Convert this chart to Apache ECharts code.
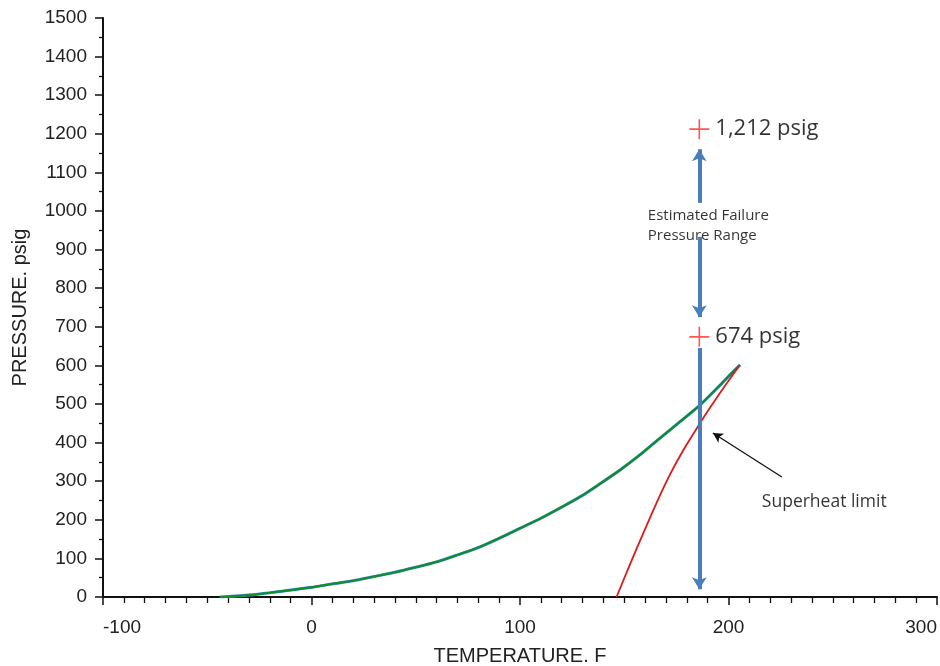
<!DOCTYPE html>
<html>
<head>
<meta charset="utf-8">
<script src="https://cdn.jsdelivr.net/npm/echarts@6/dist/echarts.min.js"></script>
<style>
  html, body { margin: 0; padding: 0; background: #ffffff; }
  #chart { width: 940px; height: 666px; }
</style>
</head>
<body>
<div id="chart"></div>
<script>
// Vapor pressure curve (green)
const vaporTemp = [-44, -40, -30, -20, -10, 0, 10, 20, 30, 40, 50, 60, 70, 80, 90, 100, 110, 119, 129, 138, 148, 157.5, 167, 176.7, 186.3, 196, 202.3, 205.5];
const vaporPressure = [0, 1, 5, 11, 18, 25, 34, 42, 53, 64, 77, 91, 109, 128, 152, 178, 204, 230, 260, 292, 329, 368, 411, 454, 497, 549, 584, 601];

// Superheat limit curve (red)
const superheatTemp = [146.3, 152.7, 159.1, 165.5, 171.9, 178.3, 185.5, 191.1, 197.5, 205.5];
const superheatPressure = [0, 84, 165, 244, 317, 380, 443, 490, 541, 601];

// Failure pressure markers
const failureTemp = [186, 186];
const failurePressure = [1212, 674];
const failureLabels = ['1,212 psig', '674 psig'];

// Axis ticks
const xTicks = [-100, 0, 100, 200, 300];
const yTicks = [0, 100, 200, 300, 400, 500, 600, 700, 800, 900, 1000, 1100, 1200, 1300, 1400, 1500];

const chart = echarts.init(document.getElementById('chart'), null, { renderer: 'canvas' });

const zip = (a, b) => a.map((v, i) => [v, b[i]]);

const blue = '#4a7ebb';
const axisFont = 'Liberation Sans';
const plusPath = 'path://M0,9.2H20V10.8H0Z M9.2,0H10.8V20H9.2Z';

const option = {
  animation: false,
  backgroundColor: '#ffffff',
  grid: { left: 103, right: 3, top: 18, bottom: 69, containLabel: false, outerBoundsMode: 'none' },
  xAxis: {
    type: 'value',
    min: xTicks[0],
    max: xTicks[xTicks.length - 1],
    interval: 100,
    name: 'TEMPERATURE. F',
    nameLocation: 'middle',
    nameGap: 49,
    nameTextStyle: { fontFamily: axisFont, fontSize: 20, color: '#222' },
    axisLine: { show: true, onZero: false, lineStyle: { color: '#111', width: 2 } },
    axisTick: { show: true, length: 8, lineStyle: { color: '#111', width: 1.5 } },
    minorTick: { show: true, splitNumber: 10, length: 6, lineStyle: { color: '#111', width: 1.3 } },
    splitLine: { show: false },
    minorSplitLine: { show: false },
    axisLabel: {
      fontFamily: axisFont, fontSize: 19, color: '#222', margin: 21,
      formatter: v => String(v),
      alignMinLabel: 'left', alignMaxLabel: 'right'
    }
  },
  yAxis: {
    type: 'value',
    min: yTicks[0],
    max: yTicks[yTicks.length - 1],
    interval: 100,
    name: 'PRESSURE. psig',
    nameLocation: 'middle',
    nameGap: 73,
    nameRotate: 90,
    nameTextStyle: { fontFamily: axisFont, fontSize: 20, color: '#222' },
    axisLine: { show: true, onZero: false, lineStyle: { color: '#111', width: 2 } },
    axisTick: { show: true, length: 8, lineStyle: { color: '#111', width: 1.5 } },
    minorTick: { show: true, splitNumber: 2, length: 4, lineStyle: { color: '#111', width: 1.3 } },
    splitLine: { show: false },
    minorSplitLine: { show: false },
    axisLabel: { fontFamily: axisFont, fontSize: 19, color: '#222', margin: 16, formatter: v => String(v) }
  },
  series: [
    {
      name: 'Vapor pressure underlay',
      type: 'line',
      data: zip(vaporTemp, vaporPressure),
      showSymbol: false,
      smooth: 0.25,
      lineStyle: { color: '#3f95d8', width: 3 },
      z: 2,
      silent: true
    },
    {
      name: 'Vapor pressure',
      type: 'line',
      data: zip(vaporTemp, vaporPressure),
      showSymbol: false,
      smooth: 0.25,
      lineStyle: { color: '#138a2c', width: 2.2 },
      z: 3,
      silent: true
    },
    {
      name: 'Superheat limit',
      type: 'line',
      data: zip(superheatTemp, superheatPressure),
      showSymbol: false,
      smooth: 0.25,
      lineStyle: { color: '#dd1a1a', width: 1.8 },
      z: 3,
      silent: true
    },
    {
      name: 'Failure pressure',
      type: 'scatter',
      data: zip(failureTemp, failurePressure),
      symbol: plusPath,
      symbolSize: 20,
      itemStyle: { color: '#ff2a2a' },
      z: 5,
      silent: true,
      label: {
        show: true,
        position: 'right',
        distance: 6,
        formatter: p => failureLabels[p.dataIndex],
        fontFamily: 'Open Sans',
        fontSize: 22,
        color: '#000'
      },
      markLine: {
        silent: true,
        symbol: ['none', 'arrow'],
        label: { show: false },
        lineStyle: { type: 'solid' },
        data: [
          [
            { coord: [186, 1021], symbol: 'none', lineStyle: { color: blue, width: 4 } },
            { coord: [186, 1160], symbol: 'arrow', symbolSize: [11, 12] }
          ],
          [
            { coord: [186, 933], symbol: 'none', lineStyle: { color: blue, width: 4 } },
            { coord: [186, 725], symbol: 'arrow', symbolSize: [11, 12] }
          ],
          [
            { coord: [186, 645], symbol: 'none', lineStyle: { color: blue, width: 4 } },
            { coord: [186, 20], symbol: 'arrow', symbolSize: [11, 12] }
          ],
          [
            { coord: [225.6, 311], symbol: 'none', lineStyle: { color: '#111', width: 1.3 } },
            { coord: [192.5, 425], symbol: 'arrow', symbolSize: [8, 10] }
          ]
        ]
      }
    },
    {
      name: 'Annotations',
      type: 'scatter',
      data: [
        { value: [161.3, 961], name: 'Estimated Failure\nPressure Range', label: { fontSize: 15, lineHeight: 20 } },
        { value: [216, 246], name: 'Superheat limit', label: { fontSize: 17.5 } }
      ],
      symbolSize: 0,
      silent: true,
      z: 6,
      label: {
        show: true,
        position: 'inside',
        align: 'left',
        verticalAlign: 'middle',
        formatter: p => p.name,
        fontFamily: 'Open Sans',
        color: '#000'
      }
    }
  ]
};

chart.setOption(option);
</script>
</body>
</html>
